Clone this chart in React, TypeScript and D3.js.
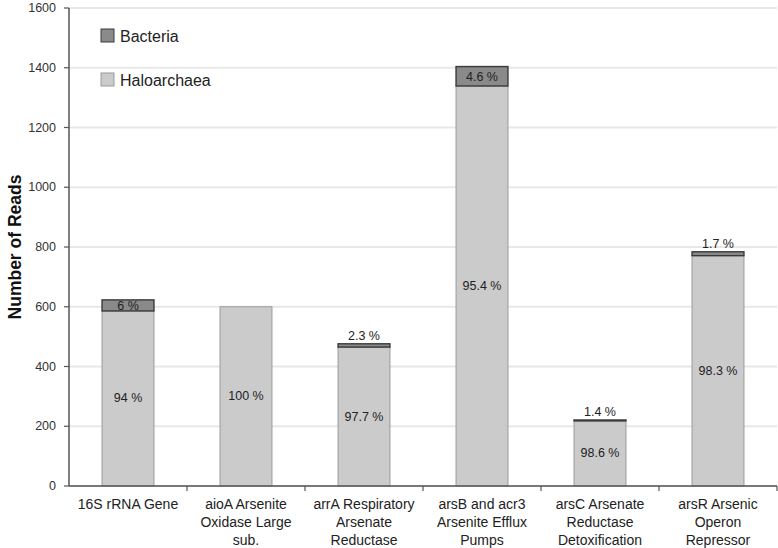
import React from "react";
import * as d3 from "d3";

const categories: string[][] = [
  ["16S rRNA Gene"],
  ["aioA Arsenite", "Oxidase Large", "sub."],
  ["arrA Respiratory", "Arsenate", "Reductase"],
  ["arsB and acr3", "Arsenite Efflux", "Pumps"],
  ["arsC Arsenate", "Reductase", "Detoxification"],
  ["arsR Arsenic", "Operon", "Repressor"],
];
const haloarchaea = [586, 600, 465, 1339, 218, 771];
const bacteria = [37, 0, 11, 65, 3, 13];
const haloLabels = ["94 %", "100 %", "97.7 %", "95.4 %", "98.6 %", "98.3 %"];
const bacteriaLabels = ["6 %", "", "2.3 %", "4.6 %", "1.4 %", "1.7 %"];
const yTicks = [0, 200, 400, 600, 800, 1000, 1200, 1400, 1600];
const seriesNames = ["Bacteria", "Haloarchaea"];

const W = 778;
const H = 548;
const FONT = "'Liberation Sans', Arial, sans-serif";
const HALO_FILL = "#cbcbcb";
const HALO_STROKE = "#9a9a9a";
const BAC_FILL = "#8a8a8a";
const BAC_STROKE = "#3a3a3a";

export default function App() {
  const x0 = 69;
  const x1 = 777;
  const yTop = 8;
  const yBot = 486;
  const keys = categories.map((c) => c.join(" "));
  const x = d3.scaleBand<string>().domain(keys).range([x0, x1]).paddingInner(0.56).paddingOuter(0.28);
  const y = d3.scaleLinear().domain([0, 1600]).range([yBot, yTop]);
  const step = x.step();

  return (
    <svg
      width={W}
      height={H}
      style={{ position: "absolute", left: 0, top: 0, background: "#fff" }}
    >
      {/* gridlines */}
      {yTicks.map((t) => (
        <line key={"g" + t} x1={x0} x2={x1} y1={y(t)} y2={y(t)} stroke="#e8e8e8" strokeWidth={2} />
      ))}
      {/* bars */}
      {keys.map((k, i) => {
        const bx = x(k)!;
        const bw = x.bandwidth();
        const h = haloarchaea[i];
        const b = bacteria[i];
        const yh = y(h);
        const yb = y(h + b);
        const bacH = yh - yb;
        return (
          <g key={k}>
            <rect x={bx} y={yh} width={bw} height={yBot - yh} fill={HALO_FILL} stroke={HALO_STROKE} strokeWidth={1} />
            {b > 0 && (
              <rect x={bx} y={yb} width={bw} height={bacH} fill={BAC_FILL} stroke={BAC_STROKE} strokeWidth={1.4} />
            )}
            <text
              x={bx + bw / 2}
              y={(yh + yBot) / 2}
              textAnchor="middle"
              dominantBaseline="central"
              fontFamily={FONT}
              fontSize={12.5}
              fill="#222"
            >
              {haloLabels[i]}
            </text>
            {bacteriaLabels[i] && (
              <text
                x={bx + bw / 2}
                y={bacH > 10 ? (yb + yh) / 2 + 1 : yb - 4}
                textAnchor="middle"
                dominantBaseline={bacH > 10 ? "central" : "auto"}
                fontFamily={FONT}
                fontSize={12.5}
                fill="#222"
              >
                {bacteriaLabels[i]}
              </text>
            )}
          </g>
        );
      })}
      {/* y axis */}
      <line x1={x0} x2={x0} y1={yTop} y2={yBot} stroke="#555" strokeWidth={1.5} />
      {yTicks.map((t) => (
        <g key={"t" + t}>
          <line x1={x0 - 5} x2={x0} y1={y(t)} y2={y(t)} stroke="#555" strokeWidth={1.2} />
          <text
            x={56}
            y={y(t)}
            textAnchor="end"
            dominantBaseline="central"
            fontFamily={FONT}
            fontSize={12.5}
            fill="#333"
          >
            {t}
          </text>
        </g>
      ))}
      {/* x axis */}
      <line x1={x0} x2={x1} y1={yBot} y2={yBot} stroke="#555" strokeWidth={1.5} />
      {keys.map((k, i) => (
        <line
          key={"xt" + k}
          x1={x0 + step * (i + 1)}
          x2={x0 + step * (i + 1)}
          y1={yBot}
          y2={yBot + 5}
          stroke="#555"
          strokeWidth={1.2}
        />
      ))}
      {categories.map((lines, i) => (
        <text
          key={"xl" + i}
          x={x(keys[i])! + x.bandwidth() / 2}
          y={509}
          textAnchor="middle"
          fontFamily={FONT}
          fontSize={14}
          fill="#222"
        >
          {lines.map((l, j) => (
            <tspan key={j} x={x(keys[i])! + x.bandwidth() / 2} dy={j === 0 ? 0 : 18}>
              {l}
            </tspan>
          ))}
        </text>
      ))}
      {/* y axis title */}
      <text
        transform={`translate(15,${(yTop + yBot) / 2}) rotate(-90)`}
        textAnchor="middle"
        dominantBaseline="central"
        fontFamily={FONT}
        fontWeight="bold"
        fontSize={17.5}
        fill="#111"
      >
        Number of Reads
      </text>
      {/* legend */}
      {seriesNames.map((s, i) => (
        <g key={s} transform={`translate(101,${29 + i * 44})`}>
          <rect
            width={13}
            height={13}
            fill={i === 0 ? BAC_FILL : HALO_FILL}
            stroke={i === 0 ? BAC_STROKE : HALO_STROKE}
            strokeWidth={1}
          />
          <text x={19} y={7} dominantBaseline="central" fontFamily={FONT} fontSize={16} fill="#222">
            {s}
          </text>
        </g>
      ))}
    </svg>
  );
}
